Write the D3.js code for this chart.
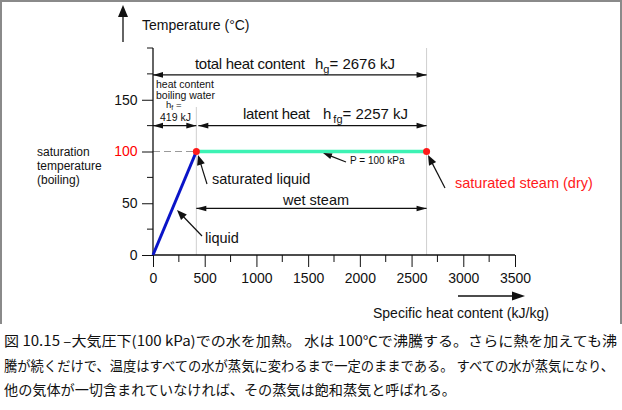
<!DOCTYPE html>
<html>
<head>
<meta charset="utf-8">
<script src="https://cdn.jsdelivr.net/npm/d3@7"></script>
<style>
  body { margin: 0; background: #fff; }
  svg text { font-family: "Liberation Sans", Arial, sans-serif; fill: #111; }
  .cap { font-family: "Noto Sans CJK JP", sans-serif; }
</style>
</head>
<body>
<svg id="chart" width="622" height="410"></svg>
<script>
// data
var xTicks = [0, 500, 1000, 1500, 2000, 2500, 3000, 3500];
var xMinor = [250, 750, 1250, 1750, 2250, 2750, 3250];
var yTicks = [0, 50, 100, 150];
var yMinor = [25, 75, 125, 175, 200];
var liquidLine = [[0, 0], [419, 100]];
var steamLine = [[419, 100], [2645, 100]];
var satPoints = [[419, 100], [2645, 100]];
var hf = 419, hgEnd = 2645;
var captionLines = [
  "図 10.15 –大気圧下(100 kPa)での水を加熱。 水は 100℃で沸騰する。さらに熱を加えても沸",
  "騰が続くだけで、温度はすべての水が蒸気に変わるまで一定のままである。 すべての水が蒸気になり、",
  "他の気体が一切含まれていなければ、その蒸気は飽和蒸気と呼ばれる。"
];
var captionWidths = [613, 610, 452];

var svg = d3.select('#chart');
var x = d3.scaleLinear().domain([0, 3500]).range([153, 515]);
var y = d3.scaleLinear().domain([0, 200]).range([255, 48]);

// frame (top, left, right only)
svg.append('path')
  .attr('d', 'M1,324 L1,1 L621,1 L621,324')
  .attr('fill', 'none').attr('stroke', '#8a8a8a').attr('stroke-width', 2);

function arrowHead(g, tx, ty, dir, len, half) {
  var pts;
  if (dir === 'r') pts = [[tx, ty], [tx - len, ty - half], [tx - len, ty + half]];
  else if (dir === 'l') pts = [[tx, ty], [tx + len, ty - half], [tx + len, ty + half]];
  else pts = [[tx, ty], [tx - half, ty + len], [tx + half, ty + len]];
  g.append('polygon').attr('points', pts.map(p => p.join(',')).join(' ')).attr('fill', '#111');
}

function pointer(g, x1, y1, x2, y2, len, half) {
  // arrow from tail (x1,y1) to tip (x2,y2)
  var a = Math.atan2(y2 - y1, x2 - x1);
  g.append('line').attr('x1', x1).attr('y1', y1)
    .attr('x2', x2 - Math.cos(a) * len * 0.8).attr('y2', y2 - Math.sin(a) * len * 0.8)
    .attr('stroke', '#111').attr('stroke-width', 1.2);
  var bx = x2 - Math.cos(a) * len, by = y2 - Math.sin(a) * len;
  var px = -Math.sin(a) * half, py = Math.cos(a) * half;
  g.append('polygon')
    .attr('points', [[x2, y2], [bx + px, by + py], [bx - px, by - py]].map(p => p.join(',')).join(' '))
    .attr('fill', '#111');
}

var g = svg.append('g');

// guide lines
g.append('line').attr('x1', x(hgEnd)).attr('x2', x(hgEnd)).attr('y1', y(200)).attr('y2', y(0))
  .attr('stroke', '#cfcfcf').attr('stroke-width', 1);
g.append('line').attr('x1', x(hf)).attr('x2', x(hf)).attr('y1', y(143)).attr('y2', y(0))
  .attr('stroke', '#cfcfcf').attr('stroke-width', 1);
g.append('line').attr('x1', x(0)).attr('x2', x(hf)).attr('y1', y(100)).attr('y2', y(100))
  .attr('stroke', '#9a9a9a').attr('stroke-width', 1.2).attr('stroke-dasharray', '7,4');

// axes
var xAxis = d3.axisBottom(x).tickValues(xTicks).tickSize(12).tickFormat(d3.format('d'));
var gx = g.append('g').attr('transform', `translate(0,${y(0)})`).call(xAxis);
gx.selectAll('.tick text').attr('font-size', 14).attr('dy', '0.9em').attr('fill', '#111');
gx.append('g').selectAll('line').data(xMinor).enter().append('line')
  .attr('x1', d => x(d)).attr('x2', d => x(d)).attr('y1', 0).attr('y2', 7).attr('stroke', '#111');

var yAxis = d3.axisLeft(y).tickValues(yTicks).tickSize(11).tickFormat(d3.format('d'));
var gy = g.append('g').attr('transform', `translate(${x(0)},0)`).call(yAxis);
gy.selectAll('.tick text').attr('font-size', 14).attr('dx', '-0.1em').style('fill', d => d === 100 ? '#ff0000' : '#111');
gy.append('g').selectAll('line').data(yMinor).enter().append('line')
  .attr('x1', -6).attr('x2', 0).attr('y1', d => y(d)).attr('y2', d => y(d)).attr('stroke', '#111');
[gx, gy].forEach(a => {
  a.select('.domain').attr('stroke', '#111').attr('stroke-width', 1.3)
    .attr('d', a === gx ? `M${x(0)},0H${x(3500)}` : `M0,${y(0)}V${y(200)}`);
  a.selectAll('.tick line').attr('stroke', '#111');
});

// series
var line = d3.line().x(d => x(d[0])).y(d => y(d[1]));
g.append('path').attr('d', line(steamLine)).attr('stroke', '#3df2b4').attr('stroke-width', 3.5).attr('fill', 'none');
g.append('path').attr('d', line(liquidLine)).attr('stroke', '#0a14c8').attr('stroke-width', 3).attr('fill', 'none');
g.selectAll('circle.sat').data(satPoints).enter().append('circle')
  .attr('cx', d => x(d[0])).attr('cy', d => y(d[1])).attr('r', 3.5).attr('fill', '#ff1a1a');

// dimension arrows
function dimension(x0, x1, yy) {
  g.append('line').attr('x1', x0).attr('x2', x1).attr('y1', yy).attr('y2', yy).attr('stroke', '#111').attr('stroke-width', 1.2);
  arrowHead(g, x0, yy, 'l', 10, 2.8);
  arrowHead(g, x1, yy, 'r', 10, 2.8);
}
dimension(x(0), x(hgEnd), y(174));
dimension(x(0), x(hf), y(125));
dimension(x(hf) + 2, x(hgEnd), y(125));
dimension(x(hf), x(hgEnd), y(45));

// axis arrows
g.append('line').attr('x1', 123).attr('x2', 123).attr('y1', 42).attr('y2', 14).attr('stroke', '#111').attr('stroke-width', 1.3);
arrowHead(g, 123, 5, 'u', 12, 5);
g.append('line').attr('x1', 458).attr('x2', 514).attr('y1', 296).attr('y2', 296).attr('stroke', '#111').attr('stroke-width', 1.3);
arrowHead(g, 525, 296, 'r', 13, 4.5);

// texts
function txt(tx, ty, s, size, color) {
  return g.append('text').attr('x', tx).attr('y', ty).attr('font-size', size).style('fill', color || '#111').text(s);
}
txt(142, 30, 'Temperature (°C)', 14);
txt(373, 318, 'Specific heat content  (kJ/kg)', 14);

txt(195, 69, 'total heat content', 15).attr('textLength', 110).attr('lengthAdjust', 'spacing');
var t1 = g.append('text').attr('x', 315).attr('y', 69).attr('font-size', 15);
t1.append('tspan').text('h');
t1.append('tspan').attr('font-size', 11).attr('dy', 4).text('g');
t1.append('tspan').attr('dy', -4).text('= 2676 kJ');

txt(243, 119, 'latent heat', 15).attr('textLength', 67).attr('lengthAdjust', 'spacing');
var t2 = g.append('text').attr('x', 323).attr('y', 119).attr('font-size', 15);
t2.append('tspan').text('h');
t2.append('tspan').attr('font-size', 11).attr('dy', 4).attr('dx', 2).text('fg');
t2.append('tspan').attr('dy', -4).text('= 2257 kJ');

txt(156, 88, 'heat content', 10.5);
txt(156, 99, 'boiling water', 10.5);
var t3 = g.append('text').attr('x', 166).attr('y', 108).attr('font-size', 9.5);
t3.append('tspan').text('h');
t3.append('tspan').attr('font-size', 7).attr('dy', 2).text('f');
t3.append('tspan').attr('dy', -2).text(' =');
txt(160, 121, '419 kJ', 10.5);

txt(37, 156, 'saturation', 12);
txt(37, 170, 'temperature', 12);
txt(37, 184, '(boiling)', 12);

txt(283, 205, 'wet steam', 14.5);
txt(212, 184, 'saturated liquid', 14.5);
txt(205, 243, 'liquid', 14.5);
txt(350, 164, 'P = 100 kPa', 10);
txt(455, 188, 'saturated steam (dry)', 14.5, '#ff1a1a');

// annotation pointers
pointer(g, 207, 184, 198, 155, 10, 4);
pointer(g, 202, 236, 177, 210, 10, 4);
pointer(g, 346, 162, 323, 153, 9, 3);
pointer(g, 445, 188, 428, 155, 10, 4);

// caption
svg.selectAll('text.cap').data(captionLines).enter().append('text')
  .attr('class', 'cap')
  .attr('x', 4).attr('y', (d, i) => 346 + i * 24.5)
  .attr('font-size', 14)
  .attr('textLength', (d, i) => captionWidths[i])
  .attr('lengthAdjust', 'spacingAndGlyphs')
  .style('fill', '#111')
  .text(d => d);
</script>
</body>
</html>
